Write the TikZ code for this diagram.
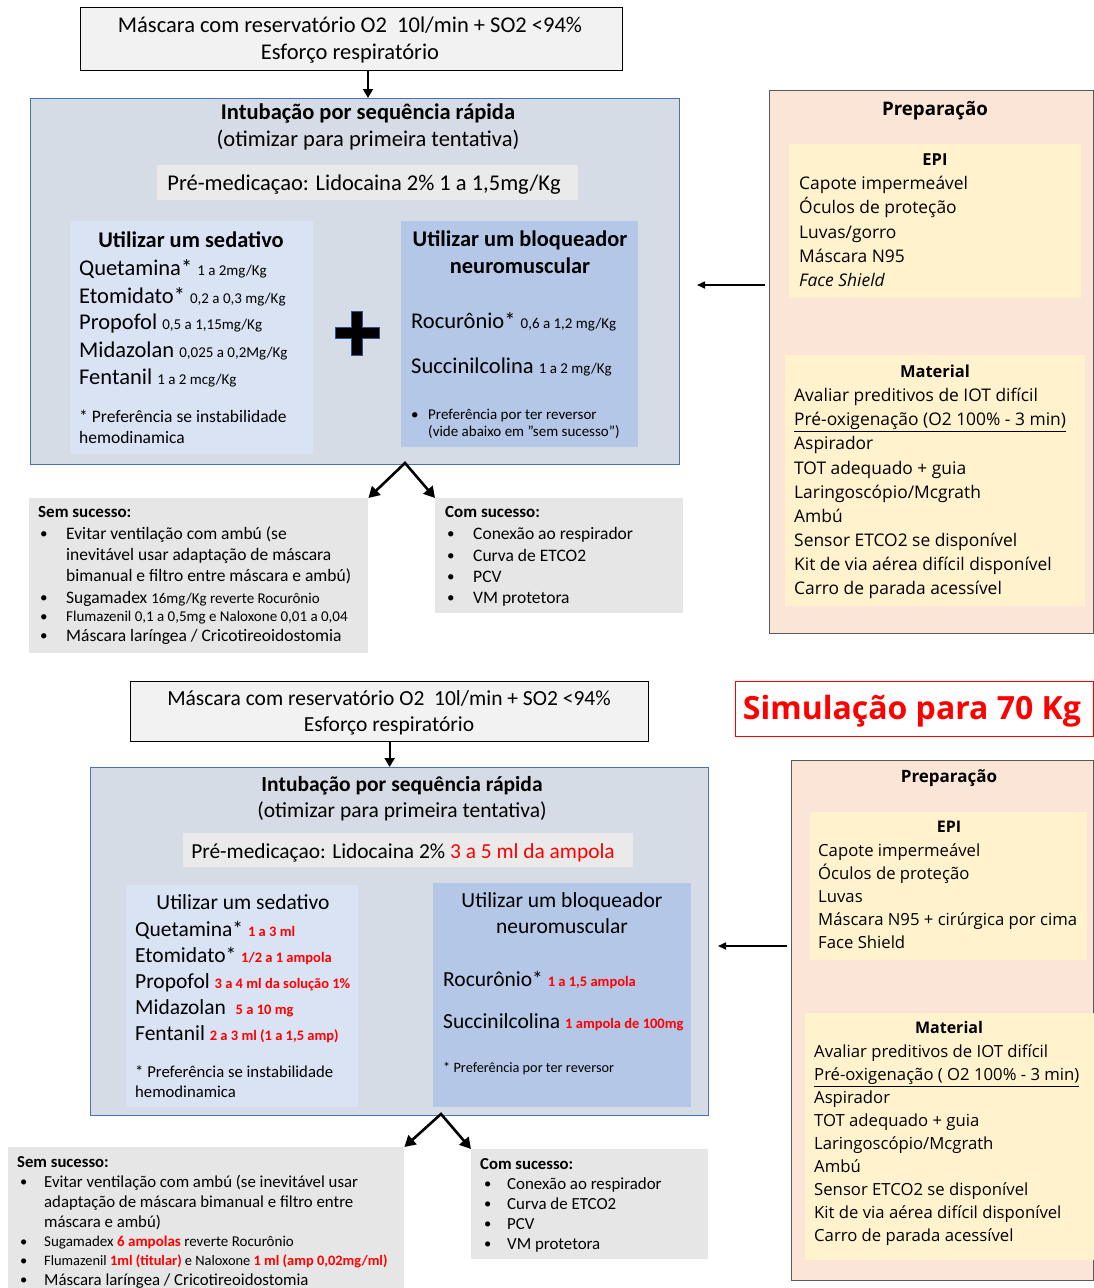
\documentclass[tikz,border=0pt]{standalone}
\usepackage{fontspec}
\setmainfont{Carlito}
\newfontfamily\uifont{Open Sans}
\usetikzlibrary{arrows.meta}

\definecolor{cinzaclaro}{HTML}{F2F2F2}
\definecolor{azulfundo}{HTML}{D6DCE5}
\definecolor{azulborda}{HTML}{4A72B0}
\definecolor{cinzapre}{HTML}{EAEAEA}
\definecolor{azulsed}{HTML}{DAE3F3}
\definecolor{azulnmb}{HTML}{B4C7E7}
\definecolor{cinzasuc}{HTML}{E7E6E6}
\definecolor{pessego}{HTML}{FBE5D6}
\definecolor{creme}{HTML}{FFF2CC}
\definecolor{vermelho}{HTML}{FF0000}
\definecolor{bordaprep}{HTML}{595959}
\definecolor{azulmais}{HTML}{2F528F}

\newcommand\fsz[1]{\fontsize{#1pt}{#1pt}\selectfont}
\newcommand\dose[2][14.5]{{\fsz{#1}\bfseries\color{vermelho}#2}}

\begin{document}
\begin{tikzpicture}[x=1pt,y=-1pt]
	\tikzset{caixa/.style n args={2}{rectangle, inner sep=0pt, anchor=north west, minimum width=#1pt, minimum height=#2pt},
	esq/.style={inner sep=0pt, anchor=base west, font=\fsz{#1}, yshift={-0.33*#1pt}},
	cen/.style={inner sep=0pt, anchor=base, font=\fsz{#1}, yshift={-0.33*#1pt}},
	pesq/.style={esq=#1, font=\uifont\fsz{#1}},
	pcen/.style={cen=#1, font=\uifont\fsz{#1}},
	seta/.style={line width=2.2pt, -{Triangle[length=9pt,width=10pt]}},
	setafina/.style={line width=1.6pt, -{Triangle[length=8pt,width=7pt]}, shorten <=4pt},
	garfo/.style={line width=2.6pt, line join=miter, {Triangle[length=11pt,width=12pt]}-{Triangle[length=11pt,width=12pt]}},
	mais/.style={fill=black, draw=azulmais, line width=1pt}};

	\fill[white] (0,0) rectangle (1094,1288);
	\useasboundingbox (0,0) rectangle (1094,1288);

	% ---- 1a parte
	\node[caixa={542}{63}, draw=black, line width=1.3pt, fill=cinzaclaro] (topo1) at (80,7) {};
	\node[caixa={649}{366}, draw=azulborda, line width=1pt, fill=azulfundo] (ibox1) at (30,98) {};
	\node[caixa={421}{35}, fill=cinzapre] (pre1) at (157,165) {};
	\node[caixa={243}{233}, fill=azulsed] (sed1) at (70,221) {};
	\node[caixa={237}{226}, fill=azulnmb] (nmb1) at (401,221) {};
	\node[caixa={339}{155}, fill=cinzasuc] (sem1) at (29,498) {};
	\node[caixa={248}{115}, fill=cinzasuc] (com1) at (435,498) {};
	\node[caixa={324}{543}, draw=bordaprep, line width=1.3pt, fill=pessego] (prep1) at (769,90) {};
	\node[caixa={292}{154}, fill=creme] (epi1) at (789,144) {};
	\node[caixa={300}{251}, fill=creme] (mat1) at (785,355) {};

	\node[cen=22.5] (m1a) at (350,25) {Máscara com reservatório O2~ 10l/min + SO2 <94\%};
	\node[cen=22.5] (m1b) at (350,52) {Esforço respiratório};

	\node[cen=22.5] (t1) at (368,112) {\bfseries Intubação por sequência rápida};
	\node[cen=22.5] (t1b) at (368,139) {(otimizar para primeira tentativa)};
	\node[cen=22.5] (pm1) at (364,183) {Pré-medicaçao: Lidocaina 2\% 1 a 1,5mg/Kg};

	\node[cen=22.4] (s1t) at (191,240) {\bfseries Utilizar um sedativo};
	\node[esq=22.5] (q1) at (79,268) {Quetamina* {\fsz{15}1 a 2mg/Kg}};
	\node[esq=22.5] (e1) at (79,296) {Etomidato* {\fsz{15}0,2 a 0,3 mg/Kg}};
	\node[esq=22.5] (p1) at (79,322) {Propofol {\fsz{15}0,5 a 1,15mg/Kg}};
	\node[esq=22.5] (z1) at (79,350) {Midazolan {\fsz{15}0,025 a 0,2Mg/Kg}};
	\node[esq=22.5] (f1) at (79,377) {Fentanil {\fsz{15}1 a 2 mcg/Kg}};
	\node[esq=17.5] (n1a) at (79,417) {* Preferência se instabilidade};
	\node[esq=17.5] (n1b) at (79,438) {hemodinamica};

	\node[cen=22.4] (b1t) at (520,239) {\bfseries Utilizar um bloqueador};
	\node[cen=22.4] (b1u) at (520,266) {\bfseries neuromuscular};
	\node[esq=22.5] (r1) at (411,321) {Rocurônio* {\fsz{15}0,6 a 1,2 mg/Kg}};
	\node[esq=22.5] (c1) at (411,366) {Succinilcolina {\fsz{15}1 a 2 mg/Kg}};
	\node[esq=15] (bb1) at (411,415) {•};
	\node[esq=15] (bn1a) at (428,415) {Preferência por ter reversor};
	\node[esq=15] (bn1b) at (428,432) {(vide abaixo em ”sem sucesso”)};

	\foreach \cx/\cy/\r in {357/333/22, 397/965/21}{
		\filldraw[mais, shift={(\cx,\cy)}] (-5.5,-\r) -- (5.5,-\r) -- (5.5,-5.5) -- (\r,-5.5) -- (\r,5.5) -- (5.5,5.5) -- (5.5,\r) -- (-5.5,\r) -- (-5.5,5.5) -- (-\r,5.5) -- (-\r,-5.5) -- (-5.5,-5.5) -- cycle;
	}

	\node[esq=17] (ss1) at (38,512) {\bfseries Sem sucesso:};
	\foreach \y in {534, 598, 617, 636}{
		\node[esq=15] (sb1-\y) at (40,\y) {•};
	}
	\node[esq=17.5] (ev1a) at (66,534) {Evitar ventilação com ambú (se};
	\node[esq=17.5] (ev1b) at (66,555) {inevitável usar adaptação de máscara};
	\node[esq=17.5] (ev1c) at (66,576) {bimanual e filtro entre máscara e ambú)};
	\node[esq=17.5] (sg1) at (66,598) {Sugamadex {\fsz{15}16mg/Kg reverte Rocurônio}};
	\node[esq=15] (fl1) at (66,617) {Flumazenil 0,1 a 0,5mg e Naloxone 0,01 a 0,04};
	\node[esq=17.5] (ml1) at (66,636) {Máscara laríngea / Cricotireoidostomia};

	\node[esq=17] (cs1) at (445,512) {\bfseries Com sucesso:};
	\foreach \linha [count=\i] in {Conexão ao respirador, Curva de ETCO2, PCV, VM protetora}{
		\node[esq=15] (cb1-\i) at (447,{534+21.3*(\i-1)}) {•};
		\node[esq=17.5] (ct1-\i) at (473,{534+21.3*(\i-1)}) {\linha};
	}

	\node[pcen=18.7] (pp1) at (935,109) {\bfseries Preparação};
	\node[pcen=16.5] (ep1) at (935,160) {\bfseries EPI};
	\foreach \linha [count=\i] in {Capote impermeável, Óculos de proteção, Luvas/gorro, Máscara N95, {\itshape Face Shield}}{
		\node[pesq=17.4] (el1-\i) at (799,{184+24.25*(\i-1)}) {\linha};
	}
	\node[pcen=16.5] (mt1) at (935,372) {\bfseries Material};
	\foreach \linha [count=\i] in {Avaliar preditivos de IOT difícil, \underline{Pré-oxigenação (O2 100\% - 3 min)}, Aspirador, TOT adequado + guia, Laringoscópio/Mcgrath, Ambú, Sensor ETCO2 se disponível, Kit de via aérea difícil disponível, Carro de parada acessível}{
		\node[pesq=17.4] (ml1-\i) at (794,{396+24.1*(\i-1)}) {\linha};
	}

	\coordinate (ponta1) at (697,285);
	\coordinate (garfo1) at (405,463);
	\draw[seta] (topo1.south -| t1) -- (ibox1.north -| t1);
	\draw[setafina] (prep1.west |- ponta1) -- (ponta1);
	\draw[garfo] (sem1.north east) -- (garfo1) -- (com1.north west);

	% ---- 2a parte: simulacao 70 Kg
	\node[caixa={518}{60}, draw=black, line width=1.3pt, fill=cinzaclaro] (topo2) at (130,681) {};
	\node[caixa={358}{55}, draw=vermelho, line width=0.8pt, fill=white] (simbox) at (735,681) {};
	\node[caixa={618}{348}, draw=azulborda, line width=1pt, fill=azulfundo] (ibox2) at (90,767) {};
	\node[caixa={450}{34}, fill=cinzapre] (pre2) at (183,833) {};
	\node[caixa={232}{222}, fill=azulsed] (sed2) at (126,885) {};
	\node[caixa={258}{224}, fill=azulnmb] (nmb2) at (433,883) {};
	\node[caixa={396}{141}, fill=cinzasuc] (sem2) at (8,1147) {};
	\node[caixa={237}{110}, fill=cinzasuc] (com2) at (471,1149) {};
	\node[caixa={302}{520}, draw=bordaprep, line width=1.3pt, fill=pessego] (prep2) at (791,760) {};
	\node[caixa={277}{148}, fill=creme] (epi2) at (810,812) {};
	\node[caixa={289}{247}, fill=creme] (mat2) at (805,1013) {};

	\node[pcen=32, text=vermelho] (sim) at (912,709) {\bfseries Simulação para 70 Kg};

	\node[cen=21.5] (m2a) at (389,698) {Máscara com reservatório O2~ 10l/min + SO2 <94\%};
	\node[cen=21.5] (m2b) at (389,724) {Esforço respiratório};

	\node[cen=21.5] (t2) at (402,784) {\bfseries Intubação por sequência rápida};
	\node[cen=21.5] (t2b) at (402,810) {(otimizar para primeira tentativa)};
	\node[cen=21.4] (pm2) at (403,851) {Pré-medicaçao: Lidocaina 2\% {\color{vermelho}3 a 5 ml da ampola}};

	\node[cen=21.5] (s2t) at (243,902) {Utilizar um sedativo};
	\node[esq=21.5] (q2) at (135,929) {Quetamina* \dose{1 a 3 ml}};
	\node[esq=21.5] (e2) at (135,955) {Etomidato* \dose{1/2 a 1 ampola}};
	\node[esq=21.5] (p2) at (135,981) {Propofol \dose{3 a 4 ml da solução 1\%}};
	\node[esq=21.5] (z2) at (135,1007) {Midazolan~ \dose{5 a 10 mg}};
	\node[esq=21.5] (f2) at (135,1033) {Fentanil \dose{2 a 3 ml (1 a 1,5 amp)}};
	\node[esq=16.7] (n2a) at (135,1072) {* Preferência se instabilidade};
	\node[esq=16.7] (n2b) at (135,1092) {hemodinamica};

	\node[cen=21.5] (b2t) at (562,900) {Utilizar um bloqueador};
	\node[cen=21.5] (b2u) at (562,926) {neuromuscular};
	\node[esq=21.5] (r2) at (443,979) {Rocurônio* \dose{1 a 1,5 ampola}};
	\node[esq=21.5] (c2) at (443,1021) {Succinilcolina \dose{1 ampola de 100mg}};
	\node[esq=14.3] (bn2) at (443,1068) {* Preferência por ter reversor};

	\node[esq=16.7] (ss2) at (17,1162) {\bfseries Sem sucesso:};
	\foreach \y in {1182, 1242, 1261, 1280}{
		\node[esq=14.5] (sb2-\y) at (20,\y) {•};
	}
	\node[esq=16.8] (ev2a) at (44,1182) {Evitar ventilação com ambú (se inevitável usar};
	\node[esq=16.8] (ev2b) at (44,1202) {adaptação de máscara bimanual e filtro entre};
	\node[esq=16.8] (ev2c) at (44,1222) {máscara e ambú)};
	\node[esq=15] (sg2) at (44,1242) {Sugamadex \dose[15]{6 ampolas} reverte Rocurônio};
	\node[esq=14.4] (fl2) at (44,1261) {Flumazenil \dose[14.4]{1ml (titular)} e Naloxone \dose[14.4]{1 ml (amp 0,02mg/ml)}};
	\node[esq=16.8] (ml2) at (44,1280) {Máscara laríngea / Cricotireoidostomia};

	\node[esq=16.7] (cs2) at (480,1164) {\bfseries Com sucesso:};
	\foreach \linha [count=\i] in {Conexão ao respirador, Curva de ETCO2, PCV, VM protetora}{
		\node[esq=14.5] (cb2-\i) at (484,{1184+20*(\i-1)}) {•};
		\node[esq=16.9] (ct2-\i) at (507,{1184+20*(\i-1)}) {\linha};
	}

	\node[pcen=17] (pp2) at (949,777) {\bfseries Preparação};
	\node[pcen=16] (ep2) at (949,827) {\bfseries EPI};
	\foreach \linha [count=\i] in {Capote impermeável, Óculos de proteção, Luvas, Máscara N95 + cirúrgica por cima, Face Shield}{
		\node[pesq=16.7] (el2-\i) at (818,{851+23*(\i-1)}) {\linha};
	}
	\node[pcen=16] (mt2) at (949,1028) {\bfseries Material};
	\foreach \linha [count=\i] in {Avaliar preditivos de IOT difícil, \underline{Pré-oxigenação ( O2 100\% - 3 min)}, Aspirador, TOT adequado + guia, Laringoscópio/Mcgrath, Ambú, Sensor ETCO2 se disponível, Kit de via aérea difícil disponível, Carro de parada acessível}{
		\node[pesq=16.7] (ml2-\i) at (814,{1052+23*(\i-1)}) {\linha};
	}

	\coordinate (ponta2) at (718,946);
	\coordinate (garfo2) at (441,1114);
	\draw[seta] (topo2.south) -- (topo2.south |- ibox2.north);
	\draw[setafina] (prep2.west |- ponta2) -- (ponta2);
	\draw[garfo] (sem2.north east) -- (garfo2) -- (com2.north west);
\end{tikzpicture}
\end{document}
